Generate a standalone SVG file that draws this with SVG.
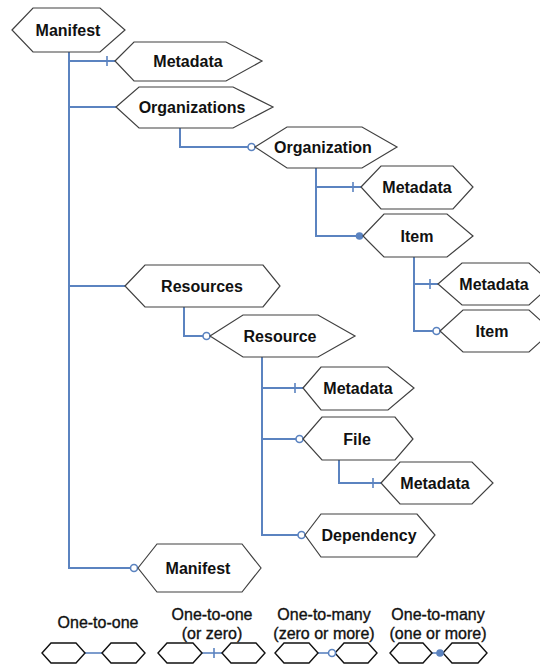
<svg xmlns="http://www.w3.org/2000/svg" width="540" height="669" viewBox="0 0 540 669">
  <style>
    .hex { fill: #ffffff; stroke: #404040; stroke-width: 1.2; }
    .lhex { fill: #ffffff; stroke: #111111; stroke-width: 1.4; }
    .lbl { font-family: "Liberation Sans", Arial, sans-serif; font-weight: bold; font-size: 16px; fill: #111111; text-anchor: middle; dominant-baseline: central; }
    .leg { font-family: "Liberation Sans", Arial, sans-serif; font-size: 16px; fill: #111111; stroke: #111111; stroke-width: 0.35; text-anchor: middle; }
    .conn { stroke: #5b83c0; stroke-width: 2; fill: none; }
    .lconn { stroke: #5b83c0; stroke-width: 1.6; fill: none; }
    .tick { stroke: #5b83c0; stroke-width: 1.6; }
    .ring { fill: #ffffff; stroke: #5b83c0; stroke-width: 1.6; }
    .dot { fill: #5b83c0; }
  </style>

  <!-- connectors -->
  <g id="connectors">
    <!-- root trunk -->
    <path class="conn" d="M69,52 V568 H135"/>
    <path class="conn" d="M69,61 H115"/>
    <line class="tick" x1="107" y1="56" x2="107" y2="66"/>
    <path class="conn" d="M69,107 H116"/>
    <path class="conn" d="M69,286 H125"/>
    <circle class="ring" cx="134" cy="568" r="3.5"/>

    <!-- organizations -> organization -->
    <path class="conn" d="M180,128 V147 H252"/>
    <circle class="ring" cx="251.5" cy="147" r="3.5"/>

    <!-- organization -> metadata / item -->
    <path class="conn" d="M316,168 V236 H360"/>
    <path class="conn" d="M316,187 H361"/>
    <line class="tick" x1="353" y1="182" x2="353" y2="192"/>
    <circle class="dot" cx="359.5" cy="236" r="3.8"/>

    <!-- item -> metadata / item -->
    <path class="conn" d="M414,257 V331 H437"/>
    <path class="conn" d="M414,284 H438"/>
    <line class="tick" x1="430" y1="279" x2="430" y2="289"/>
    <circle class="ring" cx="436.5" cy="331" r="3.5"/>

    <!-- resources -> resource -->
    <path class="conn" d="M184,307 V336 H207"/>
    <circle class="ring" cx="206.5" cy="336" r="3.5"/>

    <!-- resource -> metadata / file / dependency -->
    <path class="conn" d="M262,357 V535 H302"/>
    <path class="conn" d="M262,388 H303"/>
    <line class="tick" x1="295" y1="383" x2="295" y2="393"/>
    <path class="conn" d="M262,439 H300"/>
    <circle class="ring" cx="299.5" cy="439" r="3.5"/>
    <circle class="ring" cx="301.5" cy="535" r="3.5"/>

    <!-- file -> metadata -->
    <path class="conn" d="M339,460 V483 H381"/>
    <line class="tick" x1="373" y1="478" x2="373" y2="488"/>
  </g>

  <!-- nodes -->
  <g id="manifest-root">
    <polygon class="hex" points="12,30 33,8 100,8 125,30 100,52 33,52"/>
    <text class="lbl" x="68" y="30">Manifest</text>
  </g>
  <g id="manifest-metadata">
    <polygon class="hex" points="115,61 134,42 226,42 262,61 226,81 134,81"/>
    <text class="lbl" x="188" y="61">Metadata</text>
  </g>
  <g id="organizations">
    <polygon class="hex" points="116,107 139,87 233,87 273,107 233,128 139,128"/>
    <text class="lbl" x="192" y="107">Organizations</text>
  </g>
  <g id="organization">
    <polygon class="hex" points="255,147 287,127 362,127 397,147 362,168 287,168"/>
    <text class="lbl" x="323" y="147">Organization</text>
  </g>
  <g id="organization-metadata">
    <polygon class="hex" points="361,187 381,166 453,166 473,187 453,209 381,209"/>
    <text class="lbl" x="417" y="187">Metadata</text>
  </g>
  <g id="item">
    <polygon class="hex" points="363,236 384,214 447,214 473,236 447,257 384,257"/>
    <text class="lbl" x="417" y="236">Item</text>
  </g>
  <g id="item-metadata">
    <polygon class="hex" points="438,284 462,263 529,263 552,284 529,305 462,305"/>
    <text class="lbl" x="494" y="284">Metadata</text>
  </g>
  <g id="item-item">
    <polygon class="hex" points="440,331 463,310 529,310 552,331 529,352 463,352"/>
    <text class="lbl" x="492" y="331">Item</text>
  </g>
  <g id="resources">
    <polygon class="hex" points="125,286 145,265 263,265 280,286 263,307 145,307"/>
    <text class="lbl" x="202" y="286">Resources</text>
  </g>
  <g id="resource">
    <polygon class="hex" points="210,336 243,315 318,315 355,336 318,357 243,357"/>
    <text class="lbl" x="280" y="336">Resource</text>
  </g>
  <g id="resource-metadata">
    <polygon class="hex" points="303,388 321,367 388,367 414,388 388,410 321,410"/>
    <text class="lbl" x="358" y="388">Metadata</text>
  </g>
  <g id="file">
    <polygon class="hex" points="303,439 322,417 395,417 413,439 395,460 322,460"/>
    <text class="lbl" x="357" y="439">File</text>
  </g>
  <g id="file-metadata">
    <polygon class="hex" points="381,483 400,462 472,462 493,483 472,504 400,504"/>
    <text class="lbl" x="435" y="483">Metadata</text>
  </g>
  <g id="dependency">
    <polygon class="hex" points="305,535 321,514 417,514 435,535 417,557 321,557"/>
    <text class="lbl" x="369" y="535">Dependency</text>
  </g>
  <g id="manifest-sub">
    <polygon class="hex" points="138,568 157,544 242,544 261,568 242,592 157,592"/>
    <text class="lbl" x="198" y="568">Manifest</text>
  </g>

  <!-- legend -->
  <g id="legend-one-to-one">
    <text class="leg" x="98" y="628">One-to-one</text>
    <line class="lconn" x1="85" y1="653" x2="102" y2="653"/>
    <polygon class="lhex" points="42,653 51,643 76,643 85,653 76,663 51,663"/>
    <polygon class="lhex" points="102,653 111,643 136,643 145,653 136,663 111,663"/>
  </g>
  <g id="legend-one-to-one-or-zero">
    <text class="leg" x="212" y="620">One-to-one</text>
    <text class="leg" x="212" y="639">(or zero)</text>
    <line class="lconn" x1="202" y1="653" x2="222" y2="653"/>
    <line class="tick" x1="214" y1="648" x2="214" y2="658"/>
    <polygon class="lhex" points="158,653 167,643 193,643 202,653 193,663 167,663"/>
    <polygon class="lhex" points="222,653 231,643 256,643 265,653 256,663 231,663"/>
  </g>
  <g id="legend-one-to-many-zero">
    <text class="leg" x="324" y="620">One-to-many</text>
    <text class="leg" x="324" y="639">(zero or more)</text>
    <line class="lconn" x1="318" y1="653" x2="333" y2="653"/>
    <polygon class="lhex" points="275,653 284,643 309,643 318,653 309,663 284,663"/>
    <polygon class="lhex" points="335,653 344,643 368,643 377,653 368,663 344,663"/>
    <circle class="ring" cx="332" cy="653" r="3.5"/>
  </g>
  <g id="legend-one-to-many-one">
    <text class="leg" x="438" y="620">One-to-many</text>
    <text class="leg" x="438" y="639">(one or more)</text>
    <line class="lconn" x1="432" y1="653" x2="443" y2="653"/>
    <polygon class="lhex" points="390,653 399,643 423,643 432,653 423,663 399,663"/>
    <polygon class="lhex" points="443,653 452,643 478,643 487,653 478,663 452,663"/>
    <circle class="dot" cx="440" cy="653" r="3.8"/>
  </g>
</svg>
